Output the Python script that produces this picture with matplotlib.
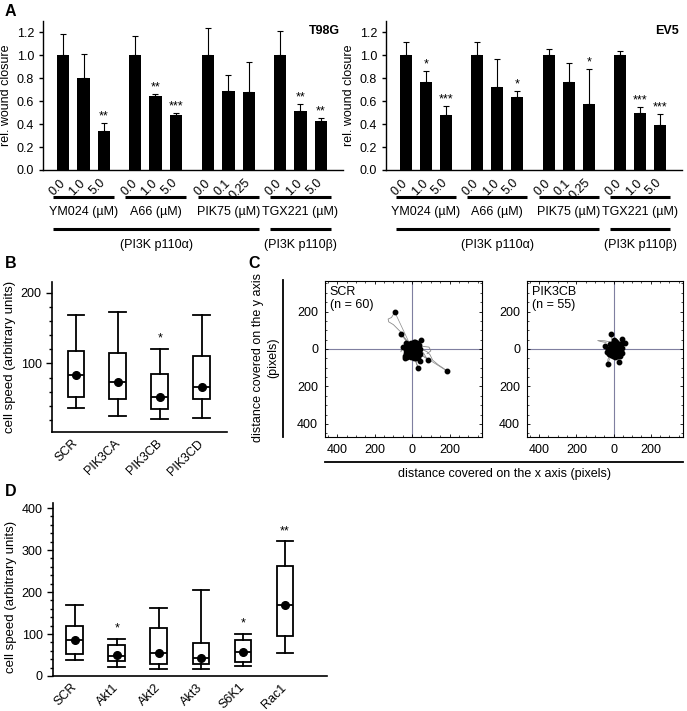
import numpy as np
import matplotlib
matplotlib.use('Agg')
import matplotlib.pyplot as plt
from matplotlib.ticker import MultipleLocator, FuncFormatter
from matplotlib.transforms import blended_transform_factory

plt.rcParams['font.family'] = ['Liberation Sans', 'DejaVu Sans']
plt.rcParams['font.size'] = 9

# ---- panel A: wound closure
drugs = ['YM024 (µM)', 'A66 (µM)', 'PIK75 (µM)', 'TGX221 (µM)']
doses = ['0.0', '1.0', '5.0', '0.0', '1.0', '5.0', '0.0', '0.1', '0.25', '0.0', '1.0', '5.0']
group_start = [0, 3.55, 7.15, 10.7]

t98g_mean = [1.0, 0.80, 0.34, 1.0, 0.645, 0.48, 1.0, 0.685, 0.68, 1.0, 0.515, 0.425]
t98g_err = [0.19, 0.21, 0.07, 0.17, 0.02, 0.02, 0.24, 0.14, 0.26, 0.21, 0.06, 0.025]
t98g_sig = ['', '', '**', '', '**', '***', '', '', '', '', '**', '**']

ev5_mean = [1.0, 0.77, 0.48, 1.0, 0.72, 0.635, 1.0, 0.77, 0.58, 1.0, 0.50, 0.395]
ev5_err = [0.12, 0.09, 0.08, 0.12, 0.25, 0.055, 0.055, 0.16, 0.30, 0.035, 0.05, 0.095]
ev5_sig = ['', '*', '***', '', '', '*', '', '', '*', '', '***', '***']

# ---- panel B: cell speed, PI3K isoform knockdown
b_names = ['SCR', 'PIK3CA', 'PIK3CB', 'PIK3CD']
b_whislo = [37, 25, 22, 23]
b_q1 = [52, 50, 36, 50]
b_med = [84, 73, 52, 66]
b_q3 = [118, 115, 85, 110]
b_whishi = [169, 172, 121, 168]
b_mean = [84, 73, 52, 66]
b_sig = ['', '', '*', '']

# ---- panel D: cell speed, downstream knockdown
d_names = ['SCR', 'Akt1', 'Akt2', 'Akt3', 'S6K1', 'Rac1']
d_whislo = [37, 21, 16, 16, 25, 55]
d_q1 = [53, 36, 29, 29, 34, 95]
d_med = [85, 48, 55, 42, 58, 170]
d_q3 = [119, 75, 115, 79, 85, 261]
d_whishi = [168, 89, 161, 206, 101, 321]
d_mean = [85, 50, 55, 44, 58, 170]
d_sig = ['', '*', '', '', '*', '**']

# ---- panel C: track end points (pixels) and a few full tracks
scr_end_x = [-92, -57, -30, -48, 50, -39, 32, 44, 85, 188, 11, 5, -10, 15, 20, -15, 0, 25, 10, -20,
             30, -5, 18, -25, 35, 8, -8, 22, -12, 38, 0, 12, -3, 28, -30, 5, 15, -18, 41, 2,
             -35, 30, 10, -5, 40, -38, 18, 25, -22, 8, -28, 20, -15, 12]
scr_end_y = [196, 80, 33, 9, 48, -48, -101, -62, -57, -119, 33, 10, 5, -5, 15, -15, -20, -25, 25, 10,
             5, 30, -30, -30, -10, -12, 18, -40, -35, 20, 0, 5, -8, 30, -5, -35, 36, 25, -25, 15,
             -20, -45, -50, -45, 0, -35, -15, 8, -8, 35, -42, -48, 20, -22]
scr_tracks = [
    [(0, 0), (-15, 30), (-40, 60), (-60, 90), (-80, 110), (-100, 130), (-125, 145), (-128, 160),
     (-110, 168), (-100, 185), (-92, 196)],
    [(0, 0), (40, 5), (80, -15), (95, -30), (110, -60), (140, -85), (170, -105), (188, -119)],
    [(0, 0), (30, -10), (60, -20), (75, -45), (85, -58)],
    [(0, 0), (50, 15), (90, 10), (100, -10), (80, -25)],
    [(0, 0), (10, -40), (20, -70), (32, -101)],
    [(0, 0), (-20, 30), (-45, 60), (-57, 80)],
    [(0, 0), (-30, 10), (-55, 5), (-60, -15), (-48, 9)],
]

cb_end_x = [-14, 0, 44, 62, -44, -32, 27, 44, -35, 5, -10, 15, 20, -15, 0, 25, 10, -20, 30, -5,
            18, -25, 35, 8, -8, 22, -12, 38, 12, -3, 28, -28, 5, 15, -18, 40, 2, 32, 10, -5,
            48, 18, 25, -20, 8, 0, 30]
cb_end_y = [78, 50, 51, 33, 15, -80, -67, -22, -15, 5, 10, -8, 20, -10, -20, -5, 25, 5, 10, 30,
            -25, -25, 0, -12, 18, -35, -30, 25, 5, -5, 28, 0, -30, 38, 28, -15, 12, -40, -45, -40,
            5, -18, 15, -15, 40, 30, -20]
cb_tracks = [
    [(0, 0), (-20, 38), (-50, 44), (-85, 45), (-70, 40), (-40, 35)],
    [(0, 0), (-20, -30), (-30, -55), (-32, -80)],
    [(0, 0), (20, -30), (27, -67)],
]

W, H = 687, 711
fig = plt.figure(figsize=(W / 100, H / 100), dpi=100)


def rect(l, t, r, b):
    return [l / W, 1 - b / H, (r - l) / W, (b - t) / H]


def fy(y):
    return 1 - y / H


def fx(x):
    return x / W


bar_x = np.concatenate([g + np.arange(3) for g in group_start])


def bar_panel(ax, means, errs, sigs, title):
    ax.bar(bar_x, means, width=0.6, color='black', zorder=2)
    ax.errorbar(bar_x, means, yerr=[np.zeros(len(means)), errs], fmt='none',
                ecolor='black', elinewidth=0.8, capsize=2.5, capthick=0.8, zorder=1)
    for x, m, e, s in zip(bar_x, means, errs, sigs):
        if s:
            ax.annotate(s, (x, m + e), xytext=(0, 0.5), textcoords='offset points',
                        ha='center', va='bottom', fontsize=9)
    ax.set_xlim(-1.0, 13.8)
    ax.set_ylim(0, 1.3)
    ax.set_yticks(np.arange(0, 1.21, 0.2))
    ax.yaxis.set_major_formatter(FuncFormatter(lambda v, p: '%.1f' % v))
    ax.set_xticks(bar_x)
    ax.set_xticklabels(doses, rotation=45, ha='right', va='center', rotation_mode='anchor')
    ax.tick_params(axis='x', length=0, pad=8, labelsize=9)
    ax.tick_params(axis='y', length=3, width=1, labelsize=9)
    for s in ['top', 'right']:
        ax.spines[s].set_visible(False)
    for s in ['left', 'bottom']:
        ax.spines[s].set_linewidth(1.0)
    ax.set_ylabel('rel. wound closure', fontsize=9, labelpad=3)
    ax.text(0.99, 0.93, title, transform=ax.transAxes, ha='right', va='center',
            fontsize=9, fontweight='bold')

    # group underlines and labels below the axis
    bl = blended_transform_factory(ax.transData, fig.transFigure)
    for g, name in zip(group_start, drugs):
        ax.plot([g - 0.5, g + 2.5], [fy(197), fy(197)], transform=bl, color='black',
                lw=2.2, clip_on=False, solid_capstyle='butt')
        ax.text(g + 1, fy(212), name, transform=bl, ha='center', va='center', fontsize=9)
    ax.plot([group_start[0] - 0.5, group_start[2] + 2.5], [fy(229), fy(229)], transform=bl,
            color='black', lw=2.2, clip_on=False, solid_capstyle='butt')
    ax.plot([group_start[3] - 0.5, group_start[3] + 2.5], [fy(229), fy(229)], transform=bl,
            color='black', lw=2.2, clip_on=False, solid_capstyle='butt')
    ax.text((group_start[0] + group_start[2] + 2) / 2, fy(245), '(PI3K p110α)', transform=bl,
            ha='center', va='center', fontsize=9)
    ax.text(group_start[3] + 1, fy(245), '(PI3K p110β)', transform=bl,
            ha='center', va='center', fontsize=9)


axA1 = fig.add_axes(rect(43, 21, 343, 170))
bar_panel(axA1, t98g_mean, t98g_err, t98g_sig, 'T98G')
axA2 = fig.add_axes(rect(386, 21, 682, 170))
bar_panel(axA2, ev5_mean, ev5_err, ev5_sig, 'EV5')


def box_panel(ax, names, wlo, q1, med, q3, whi, means, sigs):
    stats = [dict(whislo=a, q1=b, med=c, q3=d, whishi=e, fliers=[])
             for a, b, c, d, e in zip(wlo, q1, med, q3, whi)]
    pos = np.arange(len(names))
    ax.bxp(stats, positions=pos, widths=0.4, capwidths=0.4, patch_artist=True,
           boxprops=dict(facecolor='white', edgecolor='black', linewidth=1.3),
           medianprops=dict(color='black', linewidth=1.3),
           whiskerprops=dict(color='black', linewidth=1.3),
           capprops=dict(color='black', linewidth=1.3))
    ax.plot(pos, means, 'o', color='black', ms=5.5, zorder=5)
    for x, top, s in zip(pos, whi, sigs):
        if s:
            ax.annotate(s, (x, top), xytext=(0, 3), textcoords='offset points',
                        ha='center', va='bottom', fontsize=9)
    ax.set_xticks(pos)
    ax.set_xticklabels(names, rotation=45, ha='right', va='center', rotation_mode='anchor')
    ax.tick_params(axis='x', length=0, pad=7, labelsize=9)
    ax.tick_params(axis='y', which='major', length=4, width=1, labelsize=9)
    ax.tick_params(axis='y', which='minor', length=2.5, width=1)
    ax.yaxis.set_minor_locator(MultipleLocator(20))
    for s in ['top', 'right']:
        ax.spines[s].set_visible(False)
    for s in ['left', 'bottom']:
        ax.spines[s].set_linewidth(1.2)


axB = fig.add_axes(rect(52, 282, 227, 432))
box_panel(axB, b_names, b_whislo, b_q1, b_med, b_q3, b_whishi, b_mean, b_sig)
axB.set_xlim(-0.57, 3.6)
axB.set_ylim(3, 215)
axB.set_yticks([100, 200])
fig.text(fx(10), fy(357), 'cell speed (arbitrary units)', rotation=90, ha='center', va='center',
         fontsize=9.5)

axD = fig.add_axes(rect(53, 503, 327, 676))
box_panel(axD, d_names, d_whislo, d_q1, d_med, d_q3, d_whishi, d_mean, d_sig)
axD.set_xlim(-0.52, 6.0)
axD.set_ylim(0, 412)
axD.set_yticks([0, 100, 200, 300, 400])
fig.text(fx(11), fy(597), 'cell speed (arbitrary units)', rotation=90, ha='center', va='center',
         fontsize=9.5)


def track_panel(ax, ex, ey, tracks, label):
    ax.axhline(0, color='#7f7fa0', lw=0.8, zorder=1)
    ax.axvline(0, color='#7f7fa0', lw=0.8, zorder=1)
    for x, y in zip(ex, ey):
        ax.plot([0, x], [0, y], color='#8a8a8a', lw=0.5, zorder=2)
    for tr in tracks:
        tx, ty = zip(*tr)
        ax.plot(tx, ty, color='#8a8a8a', lw=0.6, zorder=2)
    ax.plot(ex, ey, 'o', color='black', ms=3.2, zorder=3)
    ax.set_xlim(-465, 373)
    ax.set_ylim(-470, 363)
    ax.set_xticks([-400, -200, 0, 200])
    ax.set_yticks([-400, -200, 0, 200])
    absfmt = FuncFormatter(lambda v, p: '%d' % abs(v))
    ax.xaxis.set_major_formatter(absfmt)
    ax.yaxis.set_major_formatter(absfmt)
    ax.xaxis.set_minor_locator(MultipleLocator(50))
    ax.yaxis.set_minor_locator(MultipleLocator(50))
    ax.tick_params(which='both', direction='in', top=True, right=True, labelsize=9)
    ax.tick_params(which='major', length=2.5, width=0.6, pad=5)
    ax.tick_params(which='minor', length=1.5, width=0.5)
    for s in ax.spines.values():
        s.set_linewidth(0.8)
    ax.text(0.03, 0.97, label, transform=ax.transAxes, ha='left', va='top', fontsize=9,
            linespacing=1.1)


axC1 = fig.add_axes(rect(325, 281, 482, 437))
track_panel(axC1, scr_end_x, scr_end_y, scr_tracks, 'SCR\n(n = 60)')
axC2 = fig.add_axes(rect(527, 281, 683, 437))
track_panel(axC2, cb_end_x, cb_end_y, cb_tracks, 'PIK3CB\n(n = 55)')

# axis titles of panel C
fig.add_artist(plt.Line2D([fx(283), fx(283)], [fy(280), fy(437)], color='black', lw=1.3))
fig.add_artist(plt.Line2D([fx(325), fx(683)], [fy(462), fy(462)], color='black', lw=1.3))
fig.text(fx(258), fy(358), 'distance covered on the y axis', rotation=90, ha='center',
         va='center', fontsize=9)
fig.text(fx(273), fy(358), '(pixels)', rotation=90, ha='center', va='center', fontsize=9)
fig.text(fx(504), fy(474), 'distance covered on the x axis (pixels)', ha='center', va='center',
         fontsize=9)

# panel letters
for letter, x, y in [('A', 5, 11), ('B', 5, 264), ('C', 248, 264), ('D', 5, 492)]:
    fig.text(fx(x), fy(y), letter, ha='left', va='center', fontsize=11.5, fontweight='bold')

fig.savefig('out.png', dpi=100)
